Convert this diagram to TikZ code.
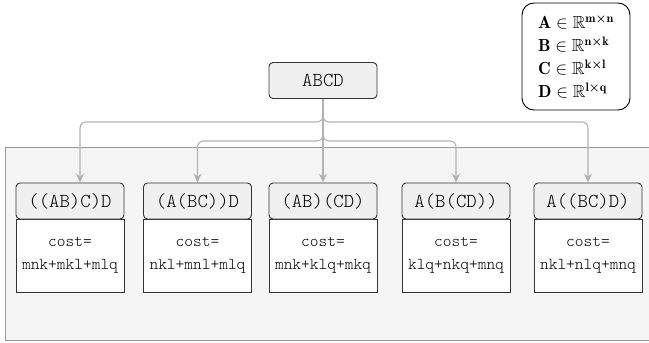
\RequirePackage{fix-cm}
\documentclass[tikz,border=0pt]{standalone}
\usepackage{amsmath,amssymb}
\usepackage{fontspec}
\setmonofont{Latin Modern Mono Light}
\usetikzlibrary{arrows.meta,backgrounds}
\newcommand\matdim[2]{^{\mathbf{#1}\boldsymbol{\times}\mathbf{#2}}}
\begin{document}
\begin{tikzpicture}[x=1pt,y=-1pt,
    head/.style={draw=black!80,fill=black!6,line width=0.9pt,rounded corners=4pt,
      minimum width=108pt,minimum height=36pt,inner sep=0pt,font=\fontsize{19.8}{22}\ttfamily},
    cost/.style={draw=black!80,fill=white,line width=0.9pt,minimum width=108pt,
      minimum height=73pt,inner sep=0pt,align=center,font=\fontsize{16.6}{23}\ttfamily},
    link/.style={draw=black!30,line width=1.1pt,rounded corners=6pt,
      -{Stealth[length=9pt,width=8pt]}}]
      \useasboundingbox (0,0) rectangle (649,343);
      \draw
        (323,80.5) node[head] (abcd){ABCD}
        (576,56.5) node[draw=black,line width=0.9pt,rounded corners=12pt,minimum width=108pt,
          minimum height=107pt,align=left,font=\fontsize{17.5}{23}\selectfont] (dims)
          {$\mathbf{A}\in\mathbb{R}\matdim{m}{n}$\\ $\mathbf{B}\in\mathbb{R}\matdim{n}{k}$\\
           $\mathbf{C}\in\mathbb{R}\matdim{k}{l}$\\ $\mathbf{D}\in\mathbb{R}\matdim{l}{q}$};
      \draw
        (70,255.5) node[cost] (c1){cost=\\mnk+mkl+mlq}
        (197.5,255.5) node[cost] (c2){cost=\\nkl+mnl+mlq}
        (323,255.5) node[cost] (c3){cost=\\mnk+klq+mkq}
        (456,255.5) node[cost] (c4){cost=\\klq+nkq+mnq}
        (588,255.5) node[cost] (c5){cost=\\nkl+nlq+mnq};
      \draw
        (70,201) node[head] (h1){((AB)C)D}
        (197.5,201) node[head] (h2){(A(BC))D}
        (323,201) node[head] (h3){(AB)(CD)}
        (456,201) node[head] (h4){A(B(CD))}
        (588,201) node[head] (h5){A((BC)D)};
      \begin{scope}[on background layer]
        \draw[fill=black!4,draw=black!40,line width=0.9pt] (5,147) rectangle (655,340);
        \draw[link] (abcd.south) -- ++(0,23) -| ([xshift=10pt]h1.north);
        \draw[link] (abcd.south) -- ++(0,42) -| (h2.north);
        \draw[link] (abcd.south) -- (h3.north);
        \draw[link] (abcd.south) -- ++(0,42) -| (h4.north);
        \draw[link] (abcd.south) -- ++(0,23) -| (h5.north);
      \end{scope}
    \end{tikzpicture}
\end{document}
